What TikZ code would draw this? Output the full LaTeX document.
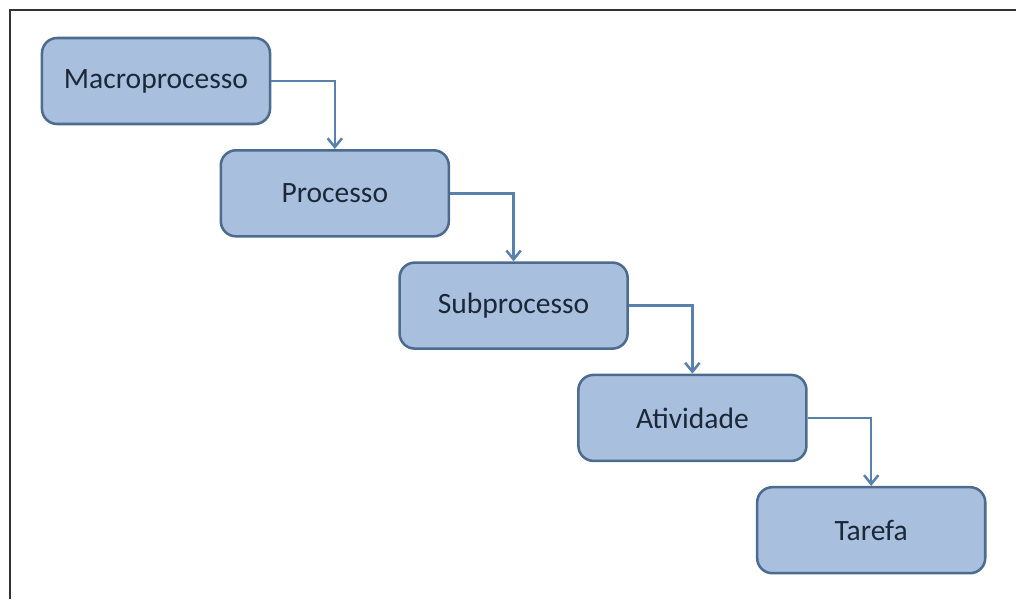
\documentclass[tikz,border=0pt]{standalone}
\usepackage{fontspec}
\setmainfont{Carlito}
\usetikzlibrary{arrows.meta, positioning}
\definecolor{mBoxFill}{HTML}{A8BFDD}
\definecolor{mBoxLine}{HTML}{4D6B8F}
\definecolor{mArrow}{HTML}{5A80AC}
\definecolor{mText}{HTML}{1C2838}

\begin{document}
\begin{tikzpicture}[x=0.025cm, y=-0.025cm,
    levelbox/.style={draw=mBoxLine, fill=mBoxFill, line width=1.8pt, rounded corners=0.38cm,
      minimum width=5.7cm, minimum height=2.15cm, text=mText, font=\fontsize{21}{25}\selectfont},
    link/.style={draw=mArrow, line width=1.8pt, -{Straight Barb[length=0.22cm, width=0.36cm]}}]
    \useasboundingbox (0,0) rectangle (1016,599);
    \draw[line width=2.1pt, black!80] (1016,10) -- (10,10) -- (10,599);
    \foreach \t [count=\i from 0] in {Macroprocesso,Processo,Subprocesso,Atividade,Tarefa} {
      \node[levelbox] (b\i) at (156+178.8*\i, 81+112.3*\i) {\t};
    }
    \foreach \j [count=\i from 0] in {1,...,4} {
      \draw[link] (b\i.east) -| (b\j.north);
    }
  \end{tikzpicture}
\end{document}
